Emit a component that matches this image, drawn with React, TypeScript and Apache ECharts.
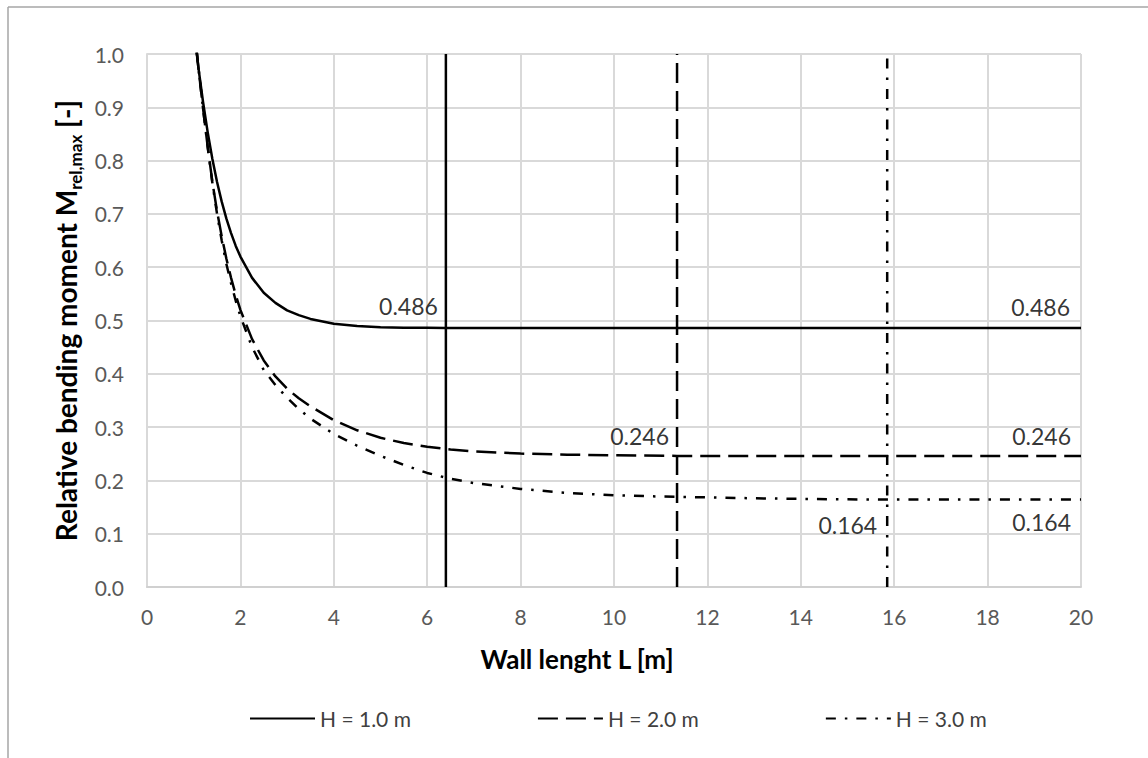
import React, { useEffect, useRef } from "react";
import * as echarts from "echarts";

// ---- data ----
const xTicks = [0, 2, 4, 6, 8, 10, 12, 14, 16, 18, 20];
const yTicks = [0, 0.1, 0.2, 0.3, 0.4, 0.5, 0.6, 0.7, 0.8, 0.9, 1.0];

const seriesNames = ["H = 1.0 m", "H = 2.0 m", "H = 3.0 m"];

const lengthH1 = [1.0, 1.1, 1.2, 1.3, 1.4, 1.5, 1.6, 1.7, 1.8, 1.9, 2.0, 2.25, 2.5, 2.75, 3.0, 3.25, 3.5, 4.0, 4.5, 5.0, 5.5, 6.0, 6.4, 20];
const momentH1 = [1.05, 0.975, 0.91, 0.853, 0.803, 0.76, 0.723, 0.691, 0.664, 0.64, 0.62, 0.58, 0.552, 0.533, 0.519, 0.51, 0.503, 0.494, 0.4895, 0.4875, 0.4866, 0.4862, 0.486, 0.486];

const lengthH2 = [1.0, 1.1, 1.2, 1.3, 1.4, 1.5, 1.6, 1.7, 1.8, 1.9, 2.0, 2.25, 2.5, 2.75, 3.0, 3.25, 3.5, 4.0, 4.5, 5.0, 5.5, 6.0, 6.5, 7, 8, 9, 10, 11.35, 20];
const momentH2 = [1.06, 0.975, 0.898, 0.826, 0.76, 0.705, 0.658, 0.616, 0.58, 0.548, 0.52, 0.465, 0.425, 0.395, 0.372, 0.354, 0.339, 0.313, 0.294, 0.28, 0.27, 0.263, 0.258, 0.2545, 0.2503, 0.2483, 0.247, 0.246, 0.246];

const lengthH3 = [1.0, 1.1, 1.2, 1.3, 1.4, 1.5, 1.6, 1.7, 1.8, 1.9, 2.0, 2.25, 2.5, 2.75, 3.0, 3.25, 3.5, 4.0, 4.5, 5.0, 5.5, 6.0, 6.5, 7, 8, 9, 10, 11, 12, 13, 14, 15, 15.85, 20];
const momentH3 = [1.06, 0.975, 0.898, 0.825, 0.758, 0.7, 0.65, 0.606, 0.57, 0.537, 0.508, 0.45, 0.407, 0.379, 0.355, 0.334, 0.316, 0.287, 0.265, 0.246, 0.229, 0.214, 0.203, 0.195, 0.184, 0.1765, 0.172, 0.1697, 0.1681, 0.1664, 0.1653, 0.1645, 0.164, 0.164];

// vertical marker lines (wall length where the curve levels off)
const limitLengths = [6.4, 11.35, 15.85];

// value labels: [L, M]
const labelLengths = [6.4, 20, 11.35, 20, 15.85, 20];
const labelMoments = [0.486, 0.486, 0.246, 0.246, 0.164, 0.164];

const FONT = "Lato";

const zip = (xs: number[], ys: number[]) => xs.map((x, i) => [x, ys[i]]);

export default function App() {
  const ref = useRef<HTMLDivElement>(null);

  useEffect(() => {
    if (!ref.current) return;
    const chart = echarts.init(ref.current, undefined, { renderer: "svg" });

    const lineStyles = [
      { color: "#000", width: 2.5, type: "solid" as any },
      { color: "#000", width: 2.5, type: [20, 8] as any },
      { color: "#000", width: 2.5, type: [10, 9, 2.5, 9] as any },
    ];
    const curves = [zip(lengthH1, momentH1), zip(lengthH2, momentH2), zip(lengthH3, momentH3)];

    const curveSeries = curves.map((data, i) => ({
      name: seriesNames[i],
      type: "line",
      data,
      showSymbol: false,
      symbol: "none",
      smooth: false,
      lineStyle: { ...lineStyles[i], join: "round" },
      itemStyle: { color: "#000" },
      clip: true,
      silent: true,
      z: 3,
    }));

    const verticalSeries = limitLengths.map((L, i) => ({
      name: "limit" + i,
      type: "line",
      data: [[L, 0], [L, 1]],
      showSymbol: false,
      symbol: "none",
      lineStyle: lineStyles[i],
      silent: true,
      z: 3,
    }));

    const labelOffsets: number[][] = [
      [-8, -22],
      [-11, -21],
      [-8, -20],
      [-10, -20],
      [-10, 25],
      [-10, 22],
    ];

    const labelSeries = {
      name: "labels",
      type: "scatter",
      symbolSize: 0,
      silent: true,
      itemStyle: { color: "transparent" },
      data: labelLengths.map((L, i) => ({
        value: [L, labelMoments[i]],
        label: {
          show: true,
          position: labelOffsets[i],
          align: "right",
          verticalAlign: "middle",
          formatter: labelMoments[i].toFixed(3),
          fontFamily: FONT,
          fontSize: 23,
          color: "#000",
        },
      })),
      z: 5,
    };

    chart.setOption({
      animation: false,
      backgroundColor: "#fff",
      textStyle: { fontFamily: FONT },
      grid: { left: 147, right: 67, top: 54, bottom: 171, containLabel: false },
      xAxis: {
        type: "value",
        min: xTicks[0],
        max: xTicks[xTicks.length - 1],
        interval: 2,
        name: "Wall lenght L [m]",
        nameLocation: "middle",
        nameGap: 59,
        nameTextStyle: {
          fontFamily: FONT,
          fontWeight: "bold",
          fontSize: 26,
          color: "#000",
          padding: [0, 74, 0, 0],
        },
        axisLine: { show: true, lineStyle: { color: "#d0d0d0", width: 2 } },
        axisTick: { show: false },
        axisLabel: { margin: 19, fontFamily: FONT, fontSize: 21, color: "#595959" },
        splitLine: { show: true, lineStyle: { color: "#d9d9d9", width: 2 } },
      },
      yAxis: {
        type: "value",
        min: yTicks[0],
        max: yTicks[yTicks.length - 1],
        interval: 0.1,
        name: "Relative bending moment M{sub|rel,max} [-]",
        nameLocation: "middle",
        nameGap: 61,
        nameRotate: 90,
        nameTextStyle: {
          fontFamily: FONT,
          fontWeight: "bold",
          fontSize: 28,
          lineHeight: 36,
          color: "#000",
          rich: {
            sub: {
              fontFamily: FONT,
              fontWeight: "bold",
              fontSize: 17,
              lineHeight: 17,
              verticalAlign: "bottom",
              color: "#000",
            },
          },
        },
        axisLine: { show: true, lineStyle: { color: "#d9d9d9", width: 2 } },
        axisTick: { show: false },
        axisLabel: {
          margin: 23,
          fontFamily: FONT,
          fontSize: 21,
          color: "#595959",
          formatter: (v: number) => v.toFixed(1),
        },
        splitLine: { show: true, lineStyle: { color: "#d9d9d9", width: 2 } },
      },
      legend: {
        data: seriesNames,
        left: 244,
        top: 703,
        itemWidth: 65,
        itemHeight: 14,
        itemGap: 126,
        itemStyle: { opacity: 0 },
        textStyle: { fontFamily: FONT, fontSize: 21, color: "#404040" },
        selectedMode: false,
      },
      graphic: [
        { type: "line", shape: { x1: 8, y1: 7, x2: 1148, y2: 7 }, style: { stroke: "#a6a6a6", lineWidth: 1.5 }, silent: true },
        { type: "line", shape: { x1: 8, y1: 7, x2: 8, y2: 758 }, style: { stroke: "#a6a6a6", lineWidth: 1.5 }, silent: true },
      ],
      series: [...curveSeries, ...verticalSeries, labelSeries],
    });

    return () => chart.dispose();
  }, []);

  return (
    <div
      ref={ref}
      style={{ position: "fixed", left: 0, top: 0, width: 1148, height: 758 }}
    />
  );
}
